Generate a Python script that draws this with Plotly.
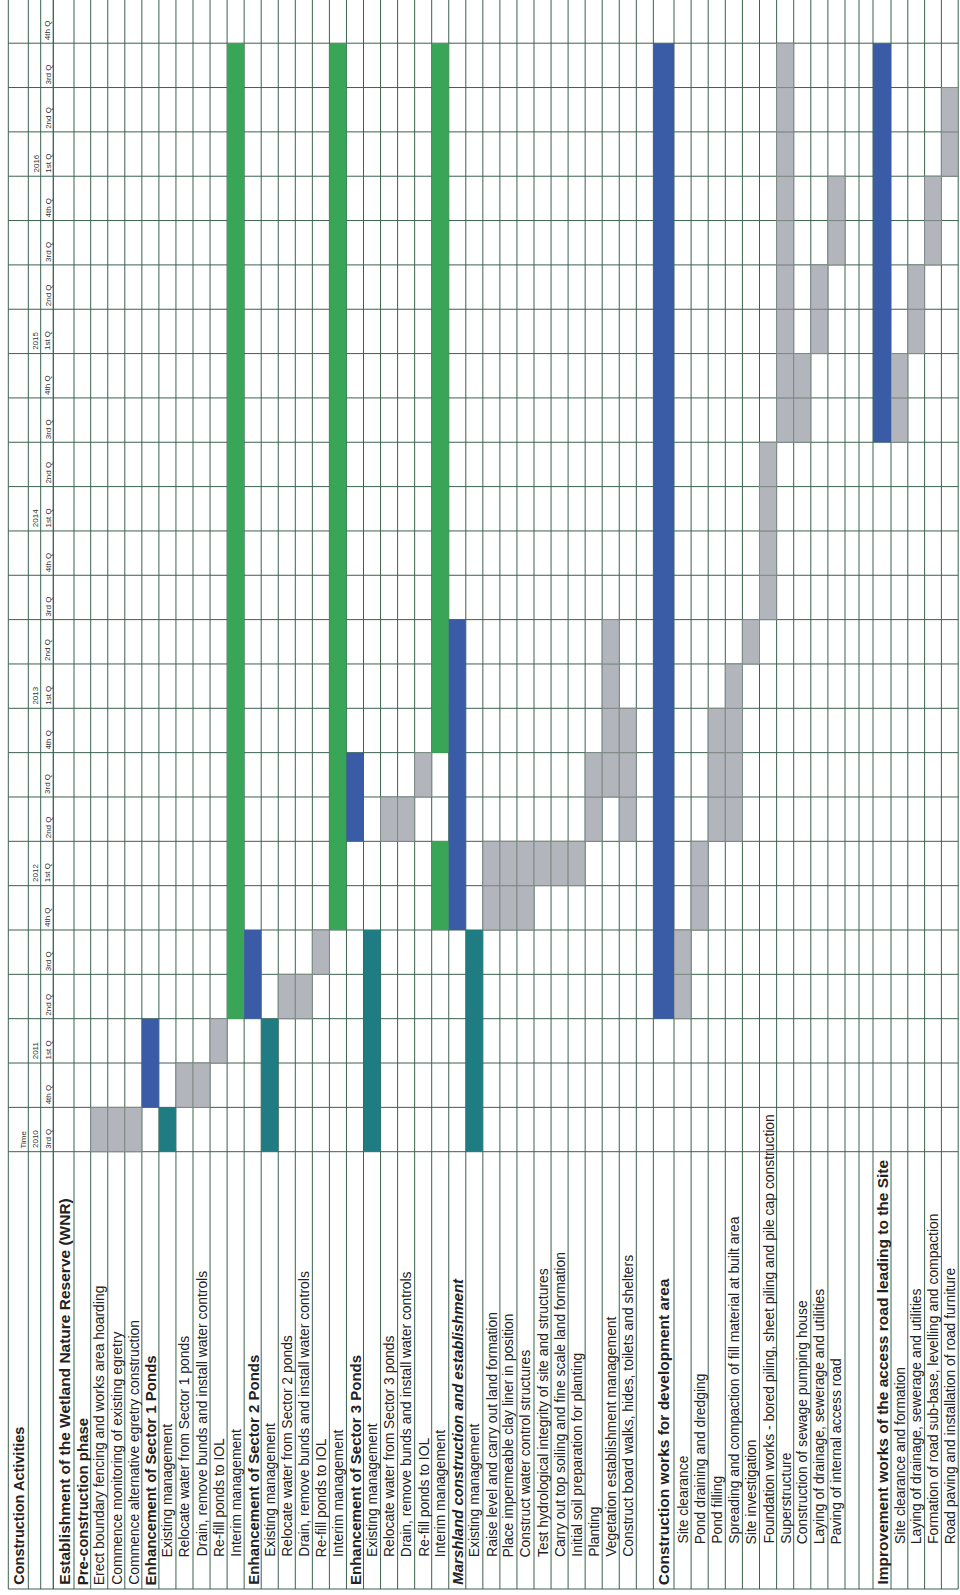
import plotly.graph_objects as go

# ---------------- DATA ----------------
header_title = "Construction Activities"
time_title = "Time"

periods = ["2010 Q3", "2010 Q4",
           "2011 Q1", "2011 Q2", "2011 Q3", "2011 Q4",
           "2012 Q1", "2012 Q2", "2012 Q3", "2012 Q4",
           "2013 Q1", "2013 Q2", "2013 Q3", "2013 Q4",
           "2014 Q1", "2014 Q2", "2014 Q3", "2014 Q4",
           "2015 Q1", "2015 Q2", "2015 Q3", "2015 Q4",
           "2016 Q1", "2016 Q2", "2016 Q3", "2016 Q4"]
quarter_labels = ["3rd Q", "4th Q",
                  "1st Q", "2nd Q", "3rd Q", "4th Q",
                  "1st Q", "2nd Q", "3rd Q", "4th Q",
                  "1st Q", "2nd Q", "3rd Q", "4th Q",
                  "1st Q", "2nd Q", "3rd Q", "4th Q",
                  "1st Q", "2nd Q", "3rd Q", "4th Q",
                  "1st Q", "2nd Q", "3rd Q", "4th Q"]
years = ["2010", "2011", "2012", "2013", "2014", "2015", "2016"]
year_first_period = ["2010 Q3", "2011 Q1", "2012 Q1", "2013 Q1", "2014 Q1", "2015 Q1", "2016 Q1"]

activities = [
    "Establishment of the Wetland Nature Reserve (WNR)",
    "Pre-construction phase",
    "Erect boundary fencing and works area hoarding",
    "Commence monitoring of existing egretry",
    "Commence alternative egretry construction",
    "Enhancement of Sector 1 Ponds",
    "Existing management",
    "Relocate water from Sector 1 ponds",
    "Drain, remove bunds and install water controls",
    "Re-fill ponds to IOL",
    "Interim management",
    "Enhancement of Sector 2 Ponds",
    "Existing management",
    "Relocate water from Sector 2 ponds",
    "Drain, remove bunds and install water controls",
    "Re-fill ponds to IOL",
    "Interim management",
    "Enhancement of Sector 3 Ponds",
    "Existing management",
    "Relocate water from Sector 3 ponds",
    "Drain, remove bunds and install water controls",
    "Re-fill ponds to IOL",
    "Interim management",
    "Marshland construction and establishment",
    "Existing management",
    "Raise level and carry out land formation",
    "Place impermeable clay liner in position",
    "Construct water control structures",
    "Test hydrological integrity of site and structures",
    "Carry out top soiling and fine scale land formation",
    "Initial soil preparation for planting",
    "Planting",
    "Vegetation establishment management",
    "Construct board walks, hides, toilets and shelters",
    "",
    "Construction works for development area",
    "Site clearance",
    "Pond draining and dredging",
    "Pond filling",
    "Spreading and compaction of fill material at built area",
    "Site investigation",
    "Foundation works - bored piling, sheet piling and pile cap construction",
    "Superstructure",
    "Construction of sewage pumping house",
    "Laying of drainage, sewerage and utilities",
    "Paving of internal access road",
    "",
    "",
    "Improvement works of the access road leading to the Site",
    "Site clearance and formation",
    "Laying of drainage, sewerage and utilities",
    "Formation of road sub-base, levelling and compaction",
    "Road paving and installation of road furniture",
]
activity_level = [
    "title", "head", "top", "top", "top",
    "head", "sub", "sub", "sub", "sub", "sub",
    "head", "sub", "sub", "sub", "sub", "sub",
    "head", "sub", "sub", "sub", "sub", "sub",
    "head_italic", "sub", "sub", "sub", "sub", "sub", "sub", "sub", "sub", "sub", "sub",
    "blank",
    "title", "sub2", "sub2", "sub2", "sub2", "sub2", "sub2", "sub2", "sub2", "sub2", "sub2",
    "blank", "blank",
    "title", "sub2", "sub2", "sub2", "sub2",
]

# bars: activity row index, first quarter, last quarter, bar type
bar_row = [2, 3, 4, 5, 6, 7, 8, 9, 10,
           11, 12, 13, 14, 15, 16,
           17, 18, 19, 20, 21, 22, 22,
           23, 24, 25, 26, 27, 28, 29, 30, 31, 32, 33,
           35, 36, 37, 38, 39, 40, 41, 42, 43, 44, 45,
           48, 49, 50, 51, 52]
bar_start = ["2010 Q3", "2010 Q3", "2010 Q3", "2010 Q4", "2010 Q3", "2010 Q4", "2010 Q4", "2011 Q1", "2011 Q2",
             "2011 Q2", "2010 Q3", "2011 Q2", "2011 Q2", "2011 Q3", "2011 Q4",
             "2012 Q2", "2010 Q3", "2012 Q2", "2012 Q2", "2012 Q3", "2011 Q4", "2012 Q4",
             "2011 Q4", "2010 Q3", "2011 Q4", "2011 Q4", "2011 Q4", "2012 Q1", "2012 Q1", "2012 Q1",
             "2012 Q2", "2012 Q3", "2012 Q2",
             "2011 Q2", "2011 Q2", "2011 Q4", "2012 Q2", "2012 Q2", "2013 Q2", "2013 Q3", "2014 Q3",
             "2014 Q3", "2015 Q1", "2015 Q3",
             "2014 Q3", "2014 Q3", "2015 Q1", "2015 Q3", "2016 Q1"]
bar_end = ["2010 Q3", "2010 Q3", "2010 Q3", "2011 Q1", "2010 Q3", "2010 Q4", "2010 Q4", "2011 Q1", "2016 Q3",
           "2011 Q3", "2011 Q1", "2011 Q2", "2011 Q2", "2011 Q3", "2016 Q3",
           "2012 Q3", "2011 Q3", "2012 Q2", "2012 Q2", "2012 Q3", "2012 Q1", "2016 Q3",
           "2013 Q2", "2011 Q3", "2012 Q1", "2012 Q1", "2012 Q1", "2012 Q1", "2012 Q1", "2012 Q1",
           "2012 Q3", "2013 Q2", "2012 Q4",
           "2016 Q3", "2011 Q3", "2012 Q1", "2012 Q4", "2013 Q1", "2013 Q2", "2014 Q2", "2016 Q3",
           "2014 Q4", "2015 Q2", "2015 Q4",
           "2016 Q3", "2014 Q4", "2015 Q2", "2015 Q4", "2016 Q2"]
bar_kind = ["task", "task", "task", "summary", "existing", "task", "task", "task", "interim",
            "summary", "existing", "task", "task", "task", "interim",
            "summary", "existing", "task", "task", "task", "interim", "interim",
            "summary", "existing", "task", "task", "task", "task", "task", "task",
            "task", "task", "task",
            "summary", "task", "task", "task", "task", "task", "task", "task",
            "task", "task", "task",
            "summary", "task", "task", "task", "task"]

# ---------------- LAYOUT / STYLE ----------------
W, H = 960, 1595
GRID_BOTTOM_PX = 1151.7
ROW_PX = 44.34
BOTTOM_BORDER_PX = 1589.0
LINE_COLOR = "#3b624f"
TEXT_COLOR = "#222222"
FONT = "Liberation Sans, Arial, sans-serif"
COLORS = {"task": "#b3b5bd", "summary": "#3a5ca6", "interim": "#38a656", "existing": "#1f7c82"}


def v(px):
    return (GRID_BOTTOM_PX - px) / ROW_PX


header_edges = [8.3, 28.3, 40.7, 53.3]
col_widths = [20.7, 16.7] + [17.05] * 33 + [20.65] + [17.1] * 10 + [14.0, 14.0, 18.0] + [16.8] * 4
edges = [53.3]
for w in col_widths:
    edges.append(edges[-1] + w)
centers = [(edges[i] + edges[i + 1]) / 2 for i in range(len(col_widths))]
LEFT, RIGHT = header_edges[0], edges[-1]

qidx = {p: i for i, p in enumerate(periods)}

fig = go.Figure()

# gray task cells: one bar per quarter so the cell borders show
for kind in ["task", "existing", "interim", "summary"]:
    xs, ys, bs, ws = [], [], [], []
    for r, s, e, k in zip(bar_row, bar_start, bar_end, bar_kind):
        if k != kind:
            continue
        if kind == "task":
            for q in range(qidx[s], qidx[e] + 1):
                xs.append(centers[r]); bs.append(q); ys.append(1); ws.append(col_widths[r])
        else:
            xs.append(centers[r]); bs.append(qidx[s]); ys.append(qidx[e] - qidx[s] + 1); ws.append(col_widths[r])
    line = dict(color="#7f8a84", width=1) if kind == "task" else dict(width=0)
    fig.add_trace(go.Bar(x=xs, y=ys, base=bs, width=ws,
                         marker=dict(color=COLORS[kind], line=line),
                         hoverinfo="skip", showlegend=False))

shapes = []
y_bot = v(BOTTOM_BORDER_PX)
for xe in header_edges + edges:
    shapes.append(dict(type="line", xref="x", yref="y", x0=xe, x1=xe, y0=y_bot, y1=27,
                       line=dict(color=LINE_COLOR, width=1), layer="below"))
for k in range(len(periods) + 1):
    shapes.append(dict(type="line", xref="x", yref="y", x0=LEFT, x1=RIGHT, y0=k, y1=k,
                       line=dict(color=LINE_COLOR, width=1), layer="below"))
shapes.append(dict(type="line", xref="x", yref="y", x0=LEFT, x1=RIGHT, y0=y_bot, y1=y_bot,
                   line=dict(color=LINE_COLOR, width=1), layer="below"))

annotations = []


def rot_text(x, y, text, size, color=TEXT_COLOR):
    annotations.append(dict(x=x, y=y, xref="x", yref="y", text=text, showarrow=False,
                            textangle=-90, xanchor="center", yanchor="bottom",
                            font=dict(family=FONT, size=size, color=color), borderpad=0))


# header column
rot_text(18.8, v(1586), "<b>" + header_title + "</b>", 14.5)
rot_text(22.5, v(1150), time_title, 8, "#333333")
for yl, fp in zip(years, year_first_period):
    rot_text(35.5, qidx[fp] + 0.05, yl, 8, "#333333")
for i, ql in enumerate(quarter_labels):
    rot_text(48.2, i + 0.05, ql, 8, "#333333")

start_px = {"title": 1586, "head": 1586, "head_italic": 1586, "top": 1586, "sub": 1558, "sub2": 1545}
for i, (name, lvl) in enumerate(zip(activities, activity_level)):
    if lvl == "blank" or not name:
        continue
    if lvl == "title":
        txt, size = "<b>" + name + "</b>", 15.5
    elif lvl == "head":
        txt, size = "<b>" + name + "</b>", 15
    elif lvl == "head_italic":
        txt, size = "<b><i>" + name + "</i></b>", 15
    else:
        txt, size = name, 13.9
    rot_text(centers[i], v(start_px[lvl]), txt, size)

fig.update_layout(
    width=W, height=H,
    margin=dict(l=0, r=0, t=0, b=0),
    paper_bgcolor="white", plot_bgcolor="white",
    barmode="overlay",
    xaxis=dict(range=[0, W], visible=False, fixedrange=True),
    yaxis=dict(range=[v(H), v(0)], visible=False, fixedrange=True),
    shapes=shapes,
    annotations=annotations,
    showlegend=False,
)

fig.write_html("out.html")
